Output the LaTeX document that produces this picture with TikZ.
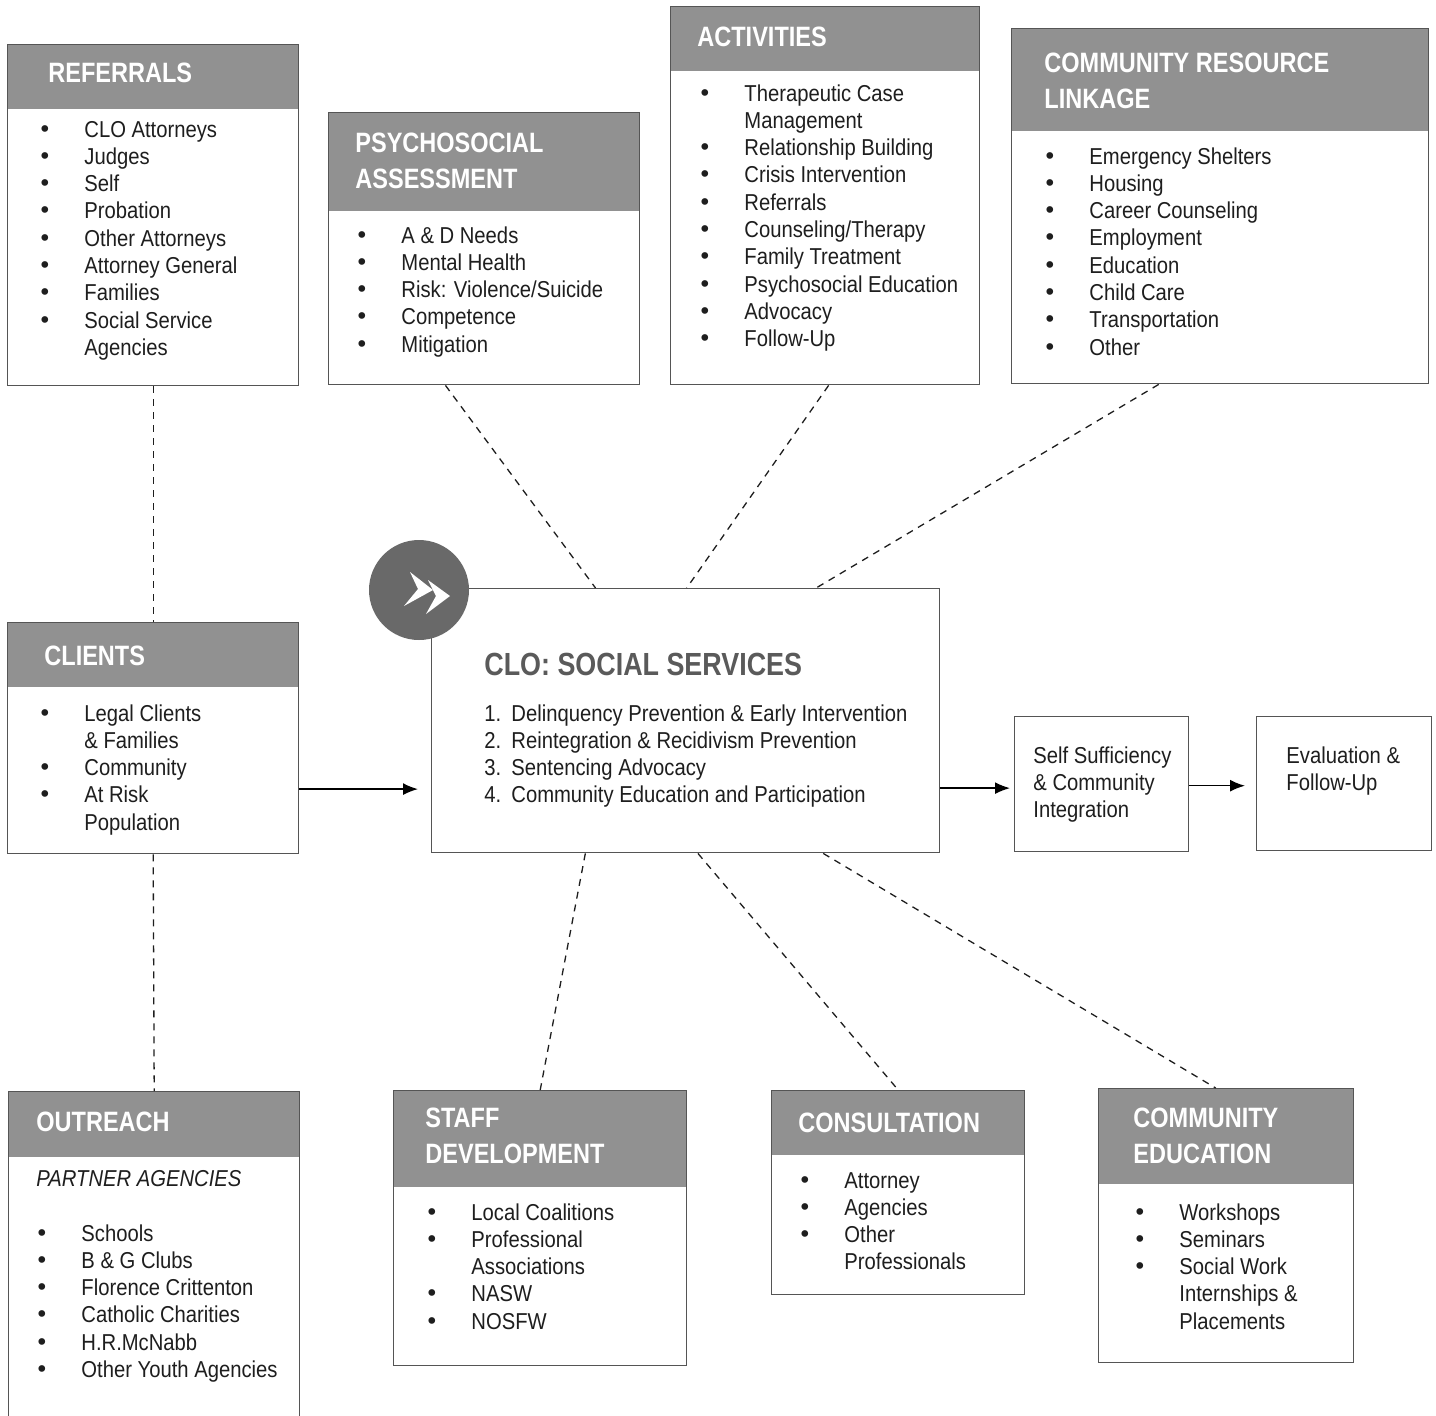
\documentclass[tikz,border=0pt]{standalone}
\usepackage{fontspec}
\setmainfont{Liberation Sans}[FakeStretch=0.88]
\newfontfamily\hdrfont{Liberation Sans}[FakeStretch=0.84]
\newfontfamily\dotfont{DejaVu Sans}
\usetikzlibrary{calc,arrows.meta}
\definecolor{hdrgray}{RGB}{145,145,145}
\definecolor{lin}{RGB}{85,85,85}
\definecolor{txt}{RGB}{30,30,30}
\definecolor{ttl}{RGB}{90,90,90}
\definecolor{logogray}{RGB}{105,105,105}
\newcommand\mylist[1]{\begin{tabular}[t]{@{}p{21.5pt}@{}l@{}}#1\end{tabular}}
\newcommand\myhead[1]{\begin{tabular}[t]{@{}l@{}}#1\end{tabular}}
\newcommand\bl{\hspace*{-1.6pt}{\dotfont\textbullet}}
\tikzset{
  boxbase/.style={draw=lin, line width=0.7pt, fill=white, inner sep=0pt, anchor=north west},
  hbox/.style n args={3}{boxbase, minimum width=#1*0.5pt, minimum height=#2*0.5pt,
    path picture={\fill[hdrgray] (path picture bounding box.north west) rectangle ([yshift=-#3*0.5pt]path picture bounding box.north east);}},
  pbox/.style 2 args={boxbase, minimum width=#1*0.5pt, minimum height=#2*0.5pt},
  hdrtext/.style={anchor=base west, inner sep=0pt, text=white, font=\hdrfont\bfseries\fontsize{14}{18}\selectfont},
  listtext/.style={anchor=base west, inner sep=0pt, text=txt, font=\fontsize{11.5}{13.65}\selectfont},
  dsh/.style={draw=txt, line width=0.65pt, dash pattern=on 3.5pt off 3pt},
  arr/.style={draw=black, line width=0.75pt, -{Latex[length=7.5pt,width=6pt]}},
}
\begin{document}
\begin{tikzpicture}[x=0.5pt,y=-0.5pt]
\fill[white] (0,0) rectangle (1436,1415);
\useasboundingbox (0,0) rectangle (1436,1415);
\clip (0,0) rectangle (1436,1415);

% ---------- boxes ----------
\node[hbox={291}{341}{64}] (ref) at (7,44) {};
\node[hbox={311}{272}{98}] (psy) at (328,112) {};
\node[hbox={309}{378}{64}] (act) at (670,6) {};
\node[hbox={417}{355}{102}] (crl) at (1011,28) {};
\node[hbox={291}{231}{64}] (cli) at (7,622) {};
\node[pbox={508}{264}] (clo) at (431,588) {};
\node[pbox={174}{135}] (ss) at (1014,716) {};
\node[pbox={175}{134}] (ev) at (1256,716) {};
\node[hbox={291}{340}{65}] (out) at (8,1091) {};
\node[hbox={293}{275}{96}] (stf) at (393,1090) {};
\node[hbox={253}{204}{64}] (con) at (771,1090) {};
\node[hbox={255}{274}{95}] (ced) at (1098,1088) {};

% ---------- headers ----------
\node[hdrtext] (refh) at (48,82) {REFERRALS};
\node[hdrtext] (psyh) at (355,152) {\myhead{PSYCHOSOCIAL\\ASSESSMENT}};
\node[hdrtext] (acth) at (697,46) {ACTIVITIES};
\node[hdrtext] (crlh) at (1044,72) {\myhead{COMMUNITY RESOURCE\\LINKAGE}};
\node[hdrtext] (clih) at (44,665) {CLIENTS};
\node[hdrtext] (outh) at (36,1131) {OUTREACH};
\node[hdrtext] (stfh) at (425,1127) {\myhead{STAFF\\DEVELOPMENT}};
\node[hdrtext] (conh) at (798,1132) {CONSULTATION};
\node[hdrtext] (cedh) at (1133,1127) {\myhead{COMMUNITY\\EDUCATION}};

% ---------- lists ----------
\node[listtext] (refl) at (41,137) {\mylist{\bl&CLO Attorneys\\\bl&Judges\\\bl&Self\\\bl&Probation\\\bl&Other Attorneys\\\bl&Attorney General\\\bl&Families\\\bl&Social Service\\&Agencies}};
\node[listtext] (psyl) at (358,243) {\mylist{\bl&A \& D Needs\\\bl&Mental Health\\\bl&Risk: Violence/Suicide\\\bl&Competence\\\bl&Mitigation}};
\node[listtext] (actl) at (701,101) {\mylist{\bl&Therapeutic Case\\&Management\\\bl&Relationship Building\\\bl&Crisis Intervention\\\bl&Referrals\\\bl&Counseling/Therapy\\\bl&Family Treatment\\\bl&Psychosocial Education\\\bl&Advocacy\\\bl&Follow-Up}};
\node[listtext] (crll) at (1046,164) {\mylist{\bl&Emergency Shelters\\\bl&Housing\\\bl&Career Counseling\\\bl&Employment\\\bl&Education\\\bl&Child Care\\\bl&Transportation\\\bl&Other}};
\node[listtext] (clil) at (41,721) {\mylist{\bl&Legal Clients\\&\& Families\\\bl&Community\\\bl&At Risk\\&Population}};
\node[listtext] (outp) at (36,1186) {\itshape PARTNER AGENCIES};
\node[listtext] (outl) at (38,1241) {\mylist{\bl&Schools\\\bl&B \& G Clubs\\\bl&Florence Crittenton\\\bl&Catholic Charities\\\bl&H.R.McNabb\\\bl&Other Youth Agencies}};
\node[listtext] (stfl) at (428,1220) {\mylist{\bl&Local Coalitions\\\bl&Professional\\&Associations\\\bl&NASW\\\bl&NOSFW}};
\node[listtext] (conl) at (801,1188) {\mylist{\bl&Attorney\\\bl&Agencies\\\bl&Other\\&Professionals}};
\node[listtext] (cedl) at (1136,1220) {\mylist{\bl&Workshops\\\bl&Seminars\\\bl&Social Work\\&Internships \&\\&Placements}};

% ---------- centre ----------
\node[anchor=base west, inner sep=0pt, text=ttl, font=\hdrfont\bfseries\fontsize{16}{18}\selectfont] (clot) at (484,675) {CLO: SOCIAL SERVICES};
\node[listtext] (clol) at (484,721) {\begin{tabular}[t]{@{}p{13.5pt}@{}l@{}}1.&Delinquency Prevention \& Early Intervention\\2.&Reintegration \& Recidivism Prevention\\3.&Sentencing Advocacy\\4.&Community Education and Participation\end{tabular}};
\node[listtext] (sst) at (1033,763) {\myhead{Self Sufficiency\\\& Community\\Integration}};
\node[listtext] (evt) at (1286,763) {\myhead{Evaluation \&\\Follow-Up}};

% ---------- logo ----------
\node[circle, fill=logogray, minimum size=50pt, inner sep=0pt] (logo) at (419,590) {};
\fill[white] (410,572) -- (433,590) -- (404,606) -- (418,589) -- cycle;
\fill[white] (428,580) -- (450,596) -- (426,614) -- (436,596) -- cycle;

% ---------- dashed connectors ----------
\draw[dsh] (ref.south) -- (cli.north);
\draw[dsh] (cli.south) -- (out.north);
\draw[dsh] ($(psy.south west)!0.376!(psy.south east)$) -- ($(clo.north west)!0.323!(clo.north east)$);
\draw[dsh] ($(act.south west)!0.511!(act.south east)$) -- ($(clo.north west)!0.502!(clo.north east)$);
\draw[dsh] ($(crl.south west)!0.353!(crl.south east)$) -- ($(clo.north west)!0.756!(clo.north east)$);
\draw[dsh] ($(clo.south west)!0.303!(clo.south east)$) -- (stf.north);
\draw[dsh] ($(clo.south west)!0.524!(clo.south east)$) -- (con.north);
\draw[dsh] ($(clo.south west)!0.770!(clo.south east)$) -- ($(ced.north west)!0.459!(ced.north east)$);

% ---------- arrows ----------
\draw[arr, shorten >=6.5pt] ($(cli.north east)!0.719!(cli.south east)$) coordinate (a1) -- (a1 -| clo.west);
\draw[arr, shorten >=2pt] ($(clo.north east)!0.754!(clo.south east)$) coordinate (a2) -- (a2 -| ss.west);
\draw[arr, shorten >=5.5pt] ($(ss.north east)!0.511!(ss.south east)$) coordinate (a3) -- (a3 -| ev.west);
\end{tikzpicture}
\end{document}
